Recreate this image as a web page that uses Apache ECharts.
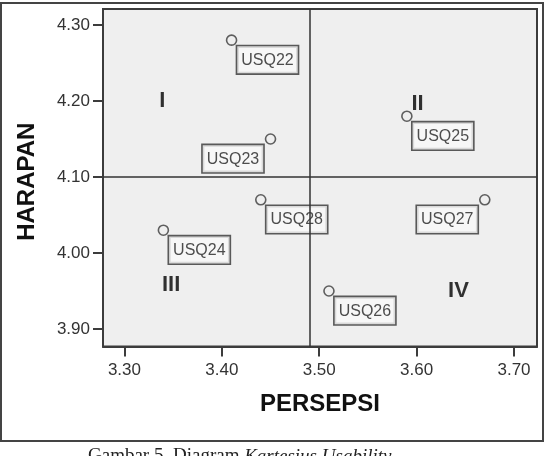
<!DOCTYPE html>
<html><head><meta charset="utf-8">
<script src="https://cdn.jsdelivr.net/npm/echarts@6/dist/echarts.min.js"></script>
<style>html,body{margin:0;padding:0;background:#fff}#c{width:545px;height:456px}</style>
</head><body><div id="c"></div>
<script>
// ---- data ----
const itemNames = ['USQ22','USQ23','USQ25','USQ28','USQ24','USQ27','USQ26'];
const persepsi  = [3.41, 3.45, 3.59, 3.44, 3.34, 3.67, 3.51];
const harapan   = [4.28, 4.15, 4.18, 4.07, 4.03, 4.07, 3.95];
const xTicks = [3.30, 3.40, 3.50, 3.60, 3.70];
const yTicks = [3.90, 4.00, 4.10, 4.20, 4.30];
const meanPersepsi = 3.487;
const meanHarapan  = 4.104;
const quadrantNames = ['I', 'II', 'III', 'IV'];
const quadrantX = [3.339, 3.601, 3.348, 3.643];
const quadrantY = [4.200, 4.196, 3.958, 3.950];
const xTitle = 'PERSEPSI';
const yTitle = 'HARAPAN';
const captionPlain = 'Gambar 5. Diagram ';
const captionItalic = 'Kartesius Usability';

// ---- chart ----
const FONT = '"Liberation Sans", Arial, sans-serif';
const leftLabel = new Set(['USQ23', 'USQ27']);
const points = itemNames.map((n, i) => {
  const isLeft = leftLabel.has(n);
  return {
    name: n,
    value: [persepsi[i], harapan[i]],
    label: {
      position: isLeft ? [-1.5, 12] : [11.5, 12],
      align: isLeft ? 'right' : 'left',
      verticalAlign: 'top'
    }
  };
});
const quads = quadrantNames.map((n, i) => ({ name: n, value: [quadrantX[i], quadrantY[i]] }));

const chart = echarts.init(document.getElementById('c'), null, { renderer: 'canvas' });
chart.setOption({
  animation: false,
  backgroundColor: '#ffffff',
  grid: {
    left: 103, top: 9, width: 434, height: 337.5,
    show: true, backgroundColor: '#efefef', borderColor: '#3c3c3c', borderWidth: 2
  },
  xAxis: {
    type: 'value', min: 3.278, max: 3.7236,
    name: xTitle, nameLocation: 'middle', nameGap: 46,
    nameTextStyle: { fontFamily: FONT, fontSize: 24, fontWeight: 'bold', color: '#111' },
    axisLine: { show: true, lineStyle: { color: '#3c3c3c', width: 2 } },
    axisTick: { show: true, customValues: xTicks, length: 10, lineStyle: { color: '#3c3c3c', width: 2 } },
    axisLabel: { customValues: xTicks, formatter: v => v.toFixed(2), margin: 15,
      fontFamily: FONT, fontSize: 17, color: '#333' },
    splitLine: { show: false }
  },
  yAxis: {
    type: 'value', min: 3.877, max: 4.321,
    name: yTitle, nameLocation: 'middle', nameGap: 64, nameRotate: 90,
    nameTextStyle: { fontFamily: FONT, fontSize: 24, fontWeight: 'bold', color: '#111', padding: [0, 8, 0, 0] },
    axisLine: { show: true, lineStyle: { color: '#3c3c3c', width: 2 } },
    axisTick: { show: true, customValues: yTicks, length: 10, lineStyle: { color: '#3c3c3c', width: 2 } },
    axisLabel: { customValues: yTicks, formatter: v => v.toFixed(2), margin: 13,
      fontFamily: FONT, fontSize: 17, color: '#333' },
    splitLine: { show: false }
  },
  series: [
    {
      type: 'scatter',
      data: points,
      symbol: 'circle',
      symbolSize: 10,
      itemStyle: { color: 'rgba(0,0,0,0)', borderColor: '#3a3a3a', borderWidth: 1.6 },
      label: {
        show: true, formatter: '{b}',
        fontFamily: FONT, fontSize: 16, color: '#222',
        backgroundColor: '#f9f9f9', borderColor: '#333', borderWidth: 1.6,
        padding: [4, 4, 3, 4], lineHeight: 20
      },
      markLine: {
        silent: true, symbol: ['none', 'none'], label: { show: false },
        lineStyle: { color: '#333', width: 1.5, type: 'solid' },
        data: [{ xAxis: meanPersepsi }, { yAxis: meanHarapan }]
      },
      z: 3
    },
    {
      type: 'scatter',
      data: quads,
      symbolSize: 0,
      label: {
        show: true, position: 'inside', formatter: '{b}',
        fontFamily: FONT, fontSize: 22, fontWeight: 'bold', color: '#000'
      },
      z: 2
    }
  ],
  graphic: [
    { type: 'rect', shape: { x: 1, y: 3, width: 542, height: 438 },
      style: { fill: 'none', stroke: '#444', lineWidth: 2 }, silent: true, z: 100 },
    { type: 'text', left: 88, top: 447, silent: true,
      style: {
        text: '{r|' + captionPlain + '}{i|' + captionItalic + '}',
        rich: {
          r: { fontFamily: '"Liberation Serif", serif', fontSize: 19, fill: '#222' },
          i: { fontFamily: '"Liberation Serif", serif', fontSize: 19, fontStyle: 'italic', fill: '#222' }
        }
      } }
  ]
});
</script>
</body></html>
